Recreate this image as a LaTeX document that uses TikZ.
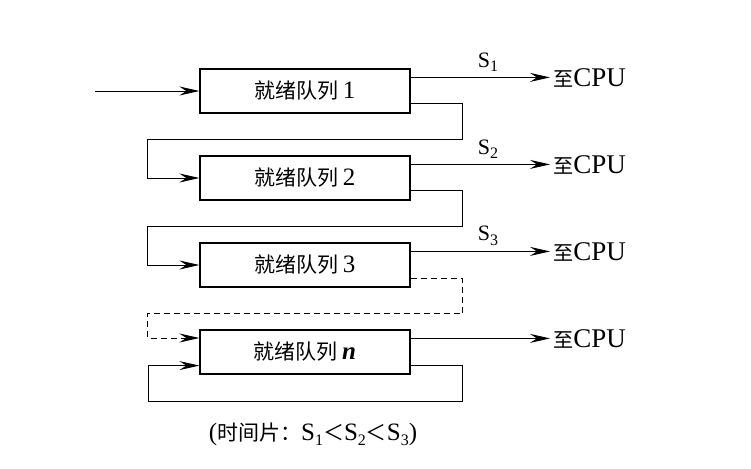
\documentclass[tikz,border=0pt]{standalone}
\usepackage{fontspec}
\setmainfont{Liberation Serif}
\newfontfamily\cjk[Scale=0.84]{Noto Sans CJK SC}
\usepackage{tikz}
\usetikzlibrary{positioning,arrows.meta,calc}
\newcommand{\Ssub}[1]{S\raisebox{-0.45ex}{\fontsize{16}{16}\selectfont #1}}

\begin{document}
\begin{tikzpicture}[
  x=1pt, y=-1pt,
  every node/.style={align=center},
  queue/.style={rectangle, draw=black, line width=1.3pt,
    minimum width=210pt, minimum height=44pt, inner sep=0pt,
    font=\fontsize{25}{29}\selectfont},
  cpu/.style={anchor=west, inner sep=3pt, font=\fontsize{27}{31}\selectfont},
  slab/.style={inner sep=0pt, font=\fontsize{22}{26}\selectfont},
  arr/.style={-{Stealth[length=20pt, width=9pt, inset=7pt]}, line width=0.9pt}
]
\useasboundingbox (0,0) rectangle (751,468);

\node[queue] (q1) at (305,91)  {{\cjk 就绪队列}\,1};
\node[queue] (q2) at (305,178) {{\cjk 就绪队列}\,2};
\node[queue] (q3) at (305,265) {{\cjk 就绪队列}\,3};
\node[queue] (qn) at (305,352) {{\cjk 就绪队列}\,\textbf{\textit{n}}};

% to the CPU
\node[cpu] (cpu1) at (550,78)  {{\cjk\fontsize{24}{28}\selectfont 至}CPU};
\node[cpu] (cpu2) at (550,165) {{\cjk\fontsize{24}{28}\selectfont 至}CPU};
\node[cpu] (cpu3) at (550,252) {{\cjk\fontsize{24}{28}\selectfont 至}CPU};
\node[cpu] (cpun) at (550,339) {{\cjk\fontsize{24}{28}\selectfont 至}CPU};

\node[slab] (s1) at (488,62)  {\Ssub{1}};
\node[slab] (s2) at (488,149) {\Ssub{2}};
\node[slab] (s3) at (488,236) {\Ssub{3}};

\coordinate (in) at (95,91);
\draw[arr] (in) -- (q1.west);

\coordinate (o1) at ($(q1.east)!.6!(q1.north east)$);
\coordinate (o2) at ($(q2.east)!.6!(q2.north east)$);
\coordinate (o3) at ($(q3.east)!.6!(q3.north east)$);
\coordinate (on) at ($(qn.east)!.6!(qn.north east)$);
\draw[arr] (o1) -- (o1 -| cpu1.west);
\draw[arr] (o2) -- (o2 -| cpu2.west);
\draw[arr] (o3) -- (o3 -| cpu3.west);
\draw[arr] (on) -- (on -| cpun.west);

% feedback
\draw[arr] ($(q1.east)!.55!(q1.south east)$) -- ++(52,0) -- ++(0,36)
  -| ($(q2.west)+(-52,0)$) -- (q2.west);
\draw[arr] ($(q2.east)!.55!(q2.south east)$) -- ++(52,0) -- ++(0,36)
  -| ($(q3.west)+(-52,0)$) -- (q3.west);
\draw[arr, dashed, dash pattern=on 6pt off 4pt] ($(q3.east)!.6!(q3.south east)$) -- ++(52,0) -- ++(0,35)
  -| ($(qn.west)+(-52,-14)$) -- ($(qn.west)+(0,-14)$);
\coordinate (nout) at ($(qn.east)!.6!(qn.south east)$);
\draw[arr] (nout) -- ++(52,0) -- ++(0,36) -- ++(-314,0) |- (qn.west |- nout);

\node[font=\fontsize{25}{29}\selectfont] (note) at (313,434)
  {({\cjk 时间片：}\Ssub{1}{\cjk ＜}\Ssub{2}{\cjk ＜}\Ssub{3})};

\end{tikzpicture}
\end{document}
